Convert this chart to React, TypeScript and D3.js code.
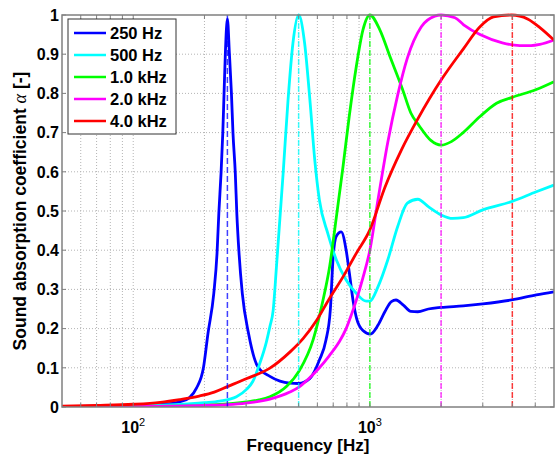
import React from "react";
import * as d3 from "d3";

// axis ranges and ticks
const freqDomain: [number, number] = [50, 6000];
const alphaDomain: [number, number] = [0, 1];
const alphaTicks = [0, 0.1, 0.2, 0.3, 0.4, 0.5, 0.6, 0.7, 0.8, 0.9, 1];
const decadeTicks = [100, 1000];
const gridFreqs = [60, 70, 80, 90, 100, 200, 300, 400, 500, 600, 700, 800, 900, 1000, 2000, 3000, 4000, 5000];

// resonance frequencies (dashed markers) and legend
const resonances = [250, 500, 1000, 2000, 4000];
const legendLabels = ["250 Hz", "500 Hz", "1.0 kHz", "2.0 kHz", "4.0 kHz"];
const seriesColors = ["#0000ff", "#00ffff", "#00ff00", "#ff00ff", "#ff0000"];

// [frequency Hz, absorption coefficient]
const curve250: [number, number][] = [
  [50, 0.001], [70, 0.002], [100, 0.003], [130, 0.006], [157, 0.013], [173, 0.024],
  [185, 0.048], [198, 0.1], [207, 0.188], [219, 0.29], [226, 0.392], [230, 0.494],
  [235, 0.596], [239, 0.698], [242, 0.8], [245, 0.9], [250, 0.99], [255, 0.9],
  [260, 0.8], [264, 0.698], [270, 0.596], [274, 0.494], [280, 0.392], [289, 0.29],
  [307, 0.188], [336, 0.103], [378, 0.078], [417, 0.066], [460, 0.061], [500, 0.06],
  [558, 0.073], [612, 0.12], [652, 0.17], [681, 0.25], [699, 0.38], [720, 0.435],
  [757, 0.447], [794, 0.4], [820, 0.34], [850, 0.27], [880, 0.225], [935, 0.195],
  [1005, 0.186], [1083, 0.209], [1157, 0.243], [1233, 0.269], [1290, 0.273], [1385, 0.26],
  [1490, 0.244], [1595, 0.243], [1766, 0.25], [2000, 0.254], [2480, 0.258], [3000, 0.263],
  [3970, 0.273], [5050, 0.286], [6000, 0.294],
];

const curve500: [number, number][] = [
  [50, 0.001], [100, 0.003], [150, 0.006], [200, 0.011], [232, 0.015], [273, 0.026],
  [301, 0.045], [320, 0.065], [342, 0.11], [365, 0.165], [378, 0.205], [390, 0.245],
  [403, 0.358], [430, 0.596], [451, 0.783], [473, 0.928], [500, 1.0], [530, 0.928],
  [558, 0.783], [585, 0.63], [612, 0.528], [664, 0.443], [722, 0.375], [794, 0.324],
  [876, 0.29], [965, 0.27], [1000, 0.27], [1083, 0.307], [1190, 0.375], [1310, 0.46],
  [1440, 0.52], [1595, 0.53], [1766, 0.511], [2000, 0.49], [2240, 0.481], [2480, 0.483],
  [3000, 0.503], [3970, 0.524], [5050, 0.549], [6000, 0.566],
];

const curve1k: [number, number][] = [
  [50, 0.0003], [100, 0.001], [150, 0.002], [200, 0.004], [250, 0.008], [300, 0.013],
  [340, 0.018], [378, 0.026], [444, 0.052], [505, 0.094], [576, 0.172], [634, 0.273],
  [676, 0.358], [722, 0.485], [770, 0.613], [818, 0.741], [876, 0.868], [935, 0.962],
  [1000, 1.0], [1102, 0.962], [1216, 0.894], [1375, 0.81], [1490, 0.75], [1618, 0.717],
  [1810, 0.68], [2000, 0.668], [2210, 0.677], [2480, 0.7], [2920, 0.741], [3430, 0.775],
  [4000, 0.79], [5050, 0.81], [6000, 0.83],
];

const curve2k: [number, number][] = [
  [50, 0.0002], [100, 0.001], [150, 0.002], [200, 0.004], [250, 0.006], [300, 0.01],
  [378, 0.02], [459, 0.038], [505, 0.052], [558, 0.075], [612, 0.1], [672, 0.13],
  [740, 0.165], [794, 0.2], [835, 0.235], [876, 0.272], [935, 0.33], [1000, 0.4],
  [1083, 0.53], [1190, 0.675], [1310, 0.795], [1440, 0.89], [1650, 0.97], [1880, 0.997],
  [2000, 1.0], [2290, 0.993], [2490, 0.975], [2920, 0.95], [3630, 0.929], [4300, 0.922],
  [4800, 0.922], [5230, 0.925], [6000, 0.936],
];

const curve4k: [number, number][] = [
  [50, 0.002], [70, 0.004], [100, 0.007], [130, 0.012], [157, 0.019], [190, 0.028],
  [220, 0.038], [250, 0.052], [300, 0.072], [378, 0.099], [459, 0.14], [523, 0.175],
  [594, 0.22], [672, 0.275], [770, 0.332], [876, 0.392], [1000, 0.452], [1157, 0.56],
  [1360, 0.656], [1595, 0.735], [2000, 0.834], [2480, 0.913], [2920, 0.97], [3330, 0.995],
  [3970, 1.0], [4640, 0.99], [5230, 0.968], [6000, 0.936],
];

const curves = [curve250, curve500, curve1k, curve2k, curve4k];

const W = 555, H = 461;
const margin = { left: 62, top: 15, right: 1, bottom: 54 };
const font = "'Liberation Sans', Arial, sans-serif";

const AbsorptionChart = () => {
  const ref = React.useRef<SVGSVGElement>(null);

  React.useEffect(() => {
    const svg = d3.select(ref.current);
    svg.selectAll("*").remove();
    const iw = W - margin.left - margin.right;
    const ih = H - margin.top - margin.bottom;
    const x = d3.scaleLog(freqDomain, [0, iw]);
    const y = d3.scaleLinear(alphaDomain, [ih, 0]);

    svg.append("defs").append("clipPath").attr("id", "plotClip")
      .append("rect").attr("x", 0).attr("y", -2).attr("width", iw).attr("height", ih + 2);

    const g = svg.append("g").attr("transform", `translate(${margin.left},${margin.top})`);

    g.append("rect").attr("width", iw).attr("height", ih).attr("fill", "#fff");

    // grid
    g.selectAll(".gx").data(gridFreqs).join("line")
      .attr("x1", d => x(d)).attr("x2", d => x(d)).attr("y1", 0).attr("y2", ih)
      .attr("stroke", "#b4b4b4").attr("stroke-width", 1).attr("stroke-dasharray", "1,2");
    g.selectAll(".gy").data(alphaTicks.slice(1, -1)).join("line")
      .attr("y1", d => y(d)).attr("y2", d => y(d)).attr("x1", 0).attr("x2", iw)
      .attr("stroke", "#b4b4b4").attr("stroke-width", 1).attr("stroke-dasharray", "1,2");

    // curves
    const line = d3.line<[number, number]>()
      .x(d => x(d[0])).y(d => y(d[1]))
      .curve(d3.curveMonotoneX);
    const plot = g.append("g").attr("clip-path", "url(#plotClip)");
    curves.forEach((c, i) => {
      plot.append("path").datum(c)
        .attr("fill", "none").attr("stroke", seriesColors[i])
        .attr("stroke-width", 2.8).attr("stroke-linejoin", "round")
        .attr("d", line);
    });

    // resonance markers
    plot.selectAll(".res").data(resonances).join("line")
      .attr("x1", d => x(d)).attr("x2", d => x(d)).attr("y1", y(0)).attr("y2", y(1))
      .attr("stroke", (_, i) => seriesColors[i]).attr("stroke-opacity", 0.75)
      .attr("stroke-width", 1.5).attr("stroke-dasharray", "6,3");

    // ticks inside
    const tickLen = 4;
    g.selectAll(".tb").data(gridFreqs).join("line")
      .attr("x1", d => x(d)).attr("x2", d => x(d)).attr("y1", ih).attr("y2", ih - tickLen)
      .attr("stroke", "#808080");
    g.selectAll(".tt").data(gridFreqs).join("line")
      .attr("x1", d => x(d)).attr("x2", d => x(d)).attr("y1", 0).attr("y2", tickLen)
      .attr("stroke", "#808080");
    g.selectAll(".tl").data(alphaTicks).join("line")
      .attr("y1", d => y(d)).attr("y2", d => y(d)).attr("x1", 0).attr("x2", tickLen)
      .attr("stroke", "#808080");
    g.selectAll(".tr").data(alphaTicks).join("line")
      .attr("y1", d => y(d)).attr("y2", d => y(d)).attr("x1", iw).attr("x2", iw - tickLen)
      .attr("stroke", "#808080");

    // box
    g.append("rect").attr("width", iw).attr("height", ih)
      .attr("fill", "none").attr("stroke", "#808080").attr("stroke-width", 1.5);

    // y tick labels
    g.selectAll(".yl").data(alphaTicks).join("text")
      .attr("x", -3).attr("y", d => y(d)).attr("dy", "0.36em")
      .attr("text-anchor", "end").attr("font-family", font).attr("font-weight", "bold")
      .attr("font-size", 16).attr("fill", "#000")
      .text(d => d3.format("~g")(d));

    // x tick labels 10^n
    decadeTicks.forEach(d => {
      const t = g.append("text").attr("x", x(d)).attr("y", ih + 26)
        .attr("text-anchor", "middle").attr("font-family", font).attr("fill", "#000");
      t.append("tspan").attr("font-size", 16).attr("font-weight", "bold").text("10");
      t.append("tspan").attr("font-size", 11).attr("dy", -7).text(String(Math.round(Math.log10(d))));
    });

    // axis titles
    svg.append("text").attr("x", margin.left + iw / 2).attr("y", 451)
      .attr("text-anchor", "middle").attr("font-family", font).attr("font-weight", "bold")
      .attr("font-size", 17).attr("fill", "#000").text("Frequency [Hz]");
    const yt = svg.append("text")
      .attr("transform", `translate(26,${margin.top + ih / 2}) rotate(-90)`)
      .attr("text-anchor", "middle").attr("font-family", font).attr("font-weight", "bold")
      .attr("font-size", 17.5).attr("fill", "#000");
    yt.append("tspan").text("Sound absorption coefficient ");
    yt.append("tspan").attr("font-family", "'Liberation Serif', serif").attr("font-style", "italic")
      .attr("font-weight", "normal").attr("font-size", 18).text("α");
    yt.append("tspan").text(" [-]");

    // legend
    const lg = svg.append("g").attr("transform", "translate(68,19)");
    lg.append("rect").attr("width", 108).attr("height", 115)
      .attr("fill", "#fff").attr("stroke", "#333").attr("stroke-width", 1);
    legendLabels.forEach((lab, i) => {
      const cy = 14 + i * 22;
      lg.append("line").attr("x1", 6).attr("x2", 38).attr("y1", cy).attr("y2", cy)
        .attr("stroke", seriesColors[i]).attr("stroke-width", 2.5);
      lg.append("text").attr("x", 42).attr("y", cy).attr("dy", "0.36em")
        .attr("font-family", font).attr("font-weight", "bold").attr("font-size", 16.5)
        .attr("fill", "#000").text(lab);
    });
  }, []);

  return <svg ref={ref} width={W} height={H} style={{ position: "absolute", left: 0, top: 0, background: "#fff" }} />;
};

export default function App() {
  return <AbsorptionChart />;
}
